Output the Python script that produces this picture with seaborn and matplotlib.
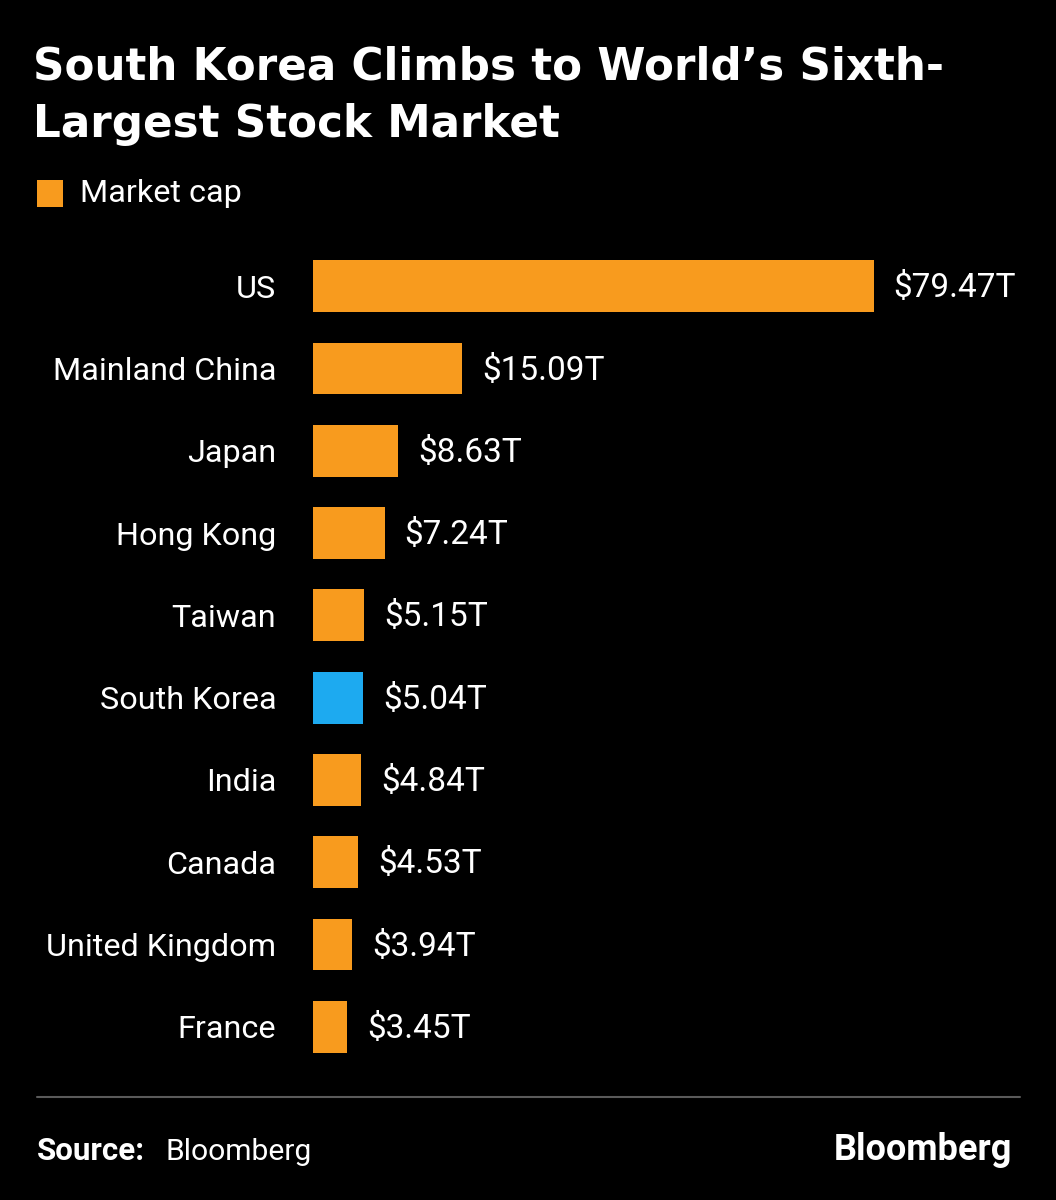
import numpy as np
import matplotlib
matplotlib.use("Agg")
import matplotlib.pyplot as plt
from matplotlib.patches import Rectangle
from matplotlib.lines import Line2D
import seaborn as sns

# data (trillions of USD)
countries = ["US", "Mainland China", "Japan", "Hong Kong", "Taiwan",
             "South Korea", "India", "Canada", "United Kingdom", "France"]
market_cap = [79.47, 15.09, 8.63, 7.24, 5.15, 5.04, 4.84, 4.53, 3.94, 3.45]
highlight = "South Korea"

ORANGE = "#F89B1E"
BLUE = "#1DAAF0"
BG = "#000000"

sns.set_theme(style="dark")
plt.rcParams["font.family"] = ["Roboto", "DejaVu Sans"]

W, H = 1056, 1200
fig = plt.figure(figsize=(W / 100, H / 100), dpi=100, facecolor=BG)

# axes box in pixels
left, right, top, bottom = 313, 1020, 245, 1068
ax = fig.add_axes([left / W, 1 - bottom / H, (right - left) / W, (bottom - top) / H])
ax.set_facecolor(BG)

colors = [BLUE if c == highlight else ORANGE for c in countries]
sns.barplot(x=market_cap, y=countries, hue=countries, palette=colors,
            legend=False, orient="h", width=0.63, saturation=1,
            linewidth=0, edgecolor="none", ax=ax)


# the chart squeezes the long US bar, so use a compressed scale past 16T
def fwd(x):
    x = np.asarray(x, dtype=float)
    return np.where(x <= 16, x, 16 + (x - 16) * 0.64)


def inv(y):
    y = np.asarray(y, dtype=float)
    return np.where(y <= 16, y, 16 + (y - 16) / 0.64)


ax.set_xscale("function", functions=(fwd, inv))
ax.set_xlim(0, float(inv((right - left) / 9.9)))
ax.set_ylim(len(countries) - 0.5, -0.5)

ax.set_xticks([])
ax.set_xlabel("")
ax.set_ylabel("")
ax.tick_params(axis="y", length=0, pad=26.5, labelsize=23.3, labelcolor="white")
for s in ax.spines.values():
    s.set_visible(False)
ax.grid(False)

for i, v in enumerate(market_cap):
    ax.annotate(f"${v:.2f}T", xy=(v, i), xytext=(14.4, -1.5),
                textcoords="offset points", va="center", ha="left",
                color="white", fontsize=24)

# title
fig.text(33 / W, 1 - 80 / H, "South Korea Climbs to World\u2019s Sixth-",
         color="white", fontsize=31.4, fontweight="bold",
         family="DejaVu Sans", va="baseline", ha="left")
fig.text(33 / W, 1 - 137 / H, "Largest Stock Market",
         color="white", fontsize=31.4, fontweight="bold",
         family="DejaVu Sans", va="baseline", ha="left")

# legend
fig.add_artist(Rectangle((37 / W, 1 - 207 / H), 26 / W, 27 / H,
                         transform=fig.transFigure, color=ORANGE, lw=0))
fig.text(80 / W, 1 - 194 / H, "Market cap", color="white", fontsize=23.3,
         va="center", ha="left")

# footer
fig.add_artist(Line2D([37 / W, 1020 / W], [1 - 1097 / H] * 2,
                      transform=fig.transFigure, color="#5a5a5a", lw=1.5))
fig.text(37 / W, 1 - 1160 / H, "Source:", color="white", fontsize=22.5,
         fontweight="bold", va="baseline", ha="left")
fig.text(165 / W, 1 - 1160 / H, "Bloomberg", color="white", fontsize=21.6,
         va="baseline", ha="left")
fig.text(1012 / W, 1 - 1160 / H, "Bloomberg", color="white", fontsize=26,
         fontweight="bold", va="baseline", ha="right")

fig.savefig("out.png", dpi=100, facecolor=BG)
